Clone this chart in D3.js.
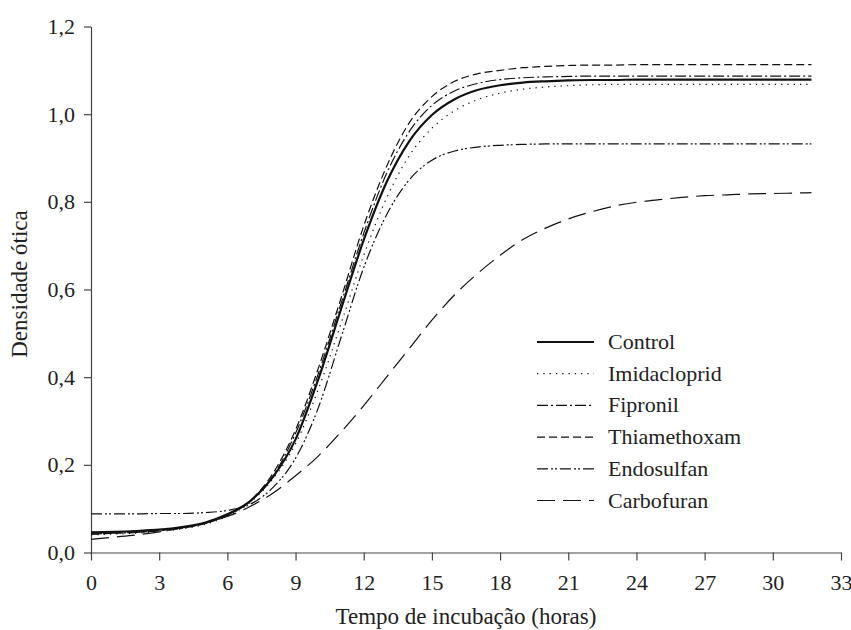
<!DOCTYPE html>
<html>
<head>
<meta charset="UTF-8">
<script src="https://cdn.jsdelivr.net/npm/d3@7"></script>
<style>
  body { margin: 0; background: #ffffff; }
  svg text { font-family: "Liberation Serif", "Times New Roman", serif; fill: #222; }
</style>
</head>
<body>
<svg id="svg" width="851" height="630"></svg>
<script>
// hours sampled
var hours = [0,1,2,3,4,5,6,7,8,9,10,11,12,13,14,15,16,17,18,19,20,21,22,23,24,25,26,27,28,29,30,31,31.7];

var control      = [0.046,0.047,0.049,0.052,0.058,0.068,0.087,0.117,0.172,0.258,0.395,0.555,0.713,0.844,0.938,0.998,1.034,1.055,1.066,1.072,1.075,1.077,1.078,1.078,1.079,1.079,1.079,1.079,1.079,1.079,1.079,1.079,1.079];
var imidacloprid = [0.040,0.042,0.044,0.048,0.054,0.064,0.083,0.114,0.168,0.248,0.372,0.522,0.678,0.808,0.905,0.968,1.008,1.033,1.048,1.057,1.062,1.065,1.067,1.068,1.068,1.068,1.068,1.068,1.068,1.068,1.068,1.068,1.068];
var fipronil     = [0.042,0.044,0.046,0.050,0.056,0.066,0.085,0.116,0.174,0.272,0.408,0.568,0.728,0.864,0.960,1.020,1.053,1.070,1.079,1.083,1.085,1.086,1.087,1.087,1.087,1.087,1.087,1.087,1.087,1.087,1.087,1.087,1.087];
var thiamethoxam = [0.042,0.044,0.046,0.050,0.056,0.066,0.085,0.118,0.180,0.280,0.420,0.580,0.745,0.880,0.980,1.040,1.075,1.092,1.100,1.106,1.109,1.111,1.112,1.112,1.113,1.113,1.113,1.113,1.113,1.113,1.113,1.113,1.113];
var endosulfan   = [0.088,0.088,0.088,0.089,0.089,0.091,0.096,0.110,0.148,0.215,0.330,0.490,0.650,0.770,0.850,0.895,0.916,0.925,0.929,0.931,0.932,0.932,0.932,0.932,0.932,0.932,0.932,0.932,0.932,0.932,0.932,0.932,0.932];
var carbofuran   = [0.030,0.035,0.040,0.047,0.056,0.067,0.082,0.105,0.135,0.175,0.220,0.275,0.335,0.400,0.465,0.530,0.588,0.636,0.678,0.714,0.740,0.761,0.777,0.790,0.799,0.805,0.810,0.814,0.816,0.818,0.819,0.820,0.821];

var seriesNames = ["Control","Imidacloprid","Fipronil","Thiamethoxam","Endosulfan","Carbofuran"];
var xTicks = [0,3,6,9,12,15,18,21,24,27,30,33];
var yTicks = [0,0.2,0.4,0.6,0.8,1.0,1.2];

var series = [
    {name: seriesNames[0], values: control,      dash: null,               width: 2.2},
    {name: seriesNames[1], values: imidacloprid, dash: "1.3,5",            width: 1.2},
    {name: seriesNames[2], values: fipronil,     dash: "11,3,2,3",         width: 1.2},
    {name: seriesNames[3], values: thiamethoxam, dash: "8,4",              width: 1.2},
    {name: seriesNames[4], values: endosulfan,   dash: "11,3,2,2,2,3",     width: 1.2},
    {name: seriesNames[5], values: carbofuran,   dash: "18,8",             width: 1.2}
];

var svg = d3.select("#svg");
var margin = {top:26.5, right:10, bottom:77.5, left:91};
var w = 841 - margin.left;
var h = 552.5 - margin.top;

var x = d3.scaleLinear().domain([0,33]).range([0,w]);
var y = d3.scaleLinear().domain([0,1.2]).range([h,0]);

var g = svg.append("g").attr("transform","translate("+margin.left+","+margin.top+")");

// axes
var xAxis = g.append("g")
    .attr("transform","translate(0,"+h+")")
    .call(d3.axisBottom(x).tickValues(xTicks).tickSizeInner(8).tickSizeOuter(0).tickPadding(14).tickFormat(d3.format("d")));
var yAxis = g.append("g")
    .call(d3.axisLeft(y).tickValues(yTicks).tickSizeInner(7).tickSizeOuter(0).tickPadding(9)
        .tickFormat(function(d){ return d3.format(".1f")(d).replace(".",","); }));

[xAxis, yAxis].forEach(function(a){
    a.select(".domain").attr("stroke","#444").attr("stroke-width",1.2);
    a.selectAll(".tick line").attr("stroke","#444").attr("stroke-width",1.2);
    a.selectAll("text").attr("font-size",22).attr("fill","#222")
        .style("font-family","'Liberation Serif', 'Times New Roman', serif");
});

// curves
var line = d3.line()
    .x(function(d){ return x(d[0]); })
    .y(function(d){ return y(d[1]); })
    .curve(d3.curveMonotoneX);

series.forEach(function(s){
    var pts = hours.map(function(t,i){ return [t, s.values[i]]; });
    g.append("path")
        .datum(pts)
        .attr("d", line)
        .attr("fill","none")
        .attr("stroke","#111")
        .attr("stroke-width", s.width)
        .attr("stroke-dasharray", s.dash);
});

// axis titles
svg.append("text")
    .attr("x", 466).attr("y", 624)
    .attr("text-anchor","middle")
    .attr("font-size",23)
    .text("Tempo de incubação (horas)");

svg.append("text")
    .attr("transform","translate(27,284) rotate(-90)")
    .attr("text-anchor","middle")
    .attr("font-size",23)
    .text("Densidade ótica");

// legend
var legend = svg.append("g").attr("transform","translate(537,342)");
series.forEach(function(s,i){
    var row = legend.append("g").attr("transform","translate(0,"+(i*31.7)+")");
    row.append("line")
        .attr("x1",0).attr("x2",57).attr("y1",0).attr("y2",0)
        .attr("stroke","#111")
        .attr("stroke-width", s.width)
        .attr("stroke-dasharray", s.dash);
    row.append("text")
        .attr("x",71).attr("y",7)
        .attr("font-size",22)
        .text(s.name);
});
</script>
</body>
</html>
